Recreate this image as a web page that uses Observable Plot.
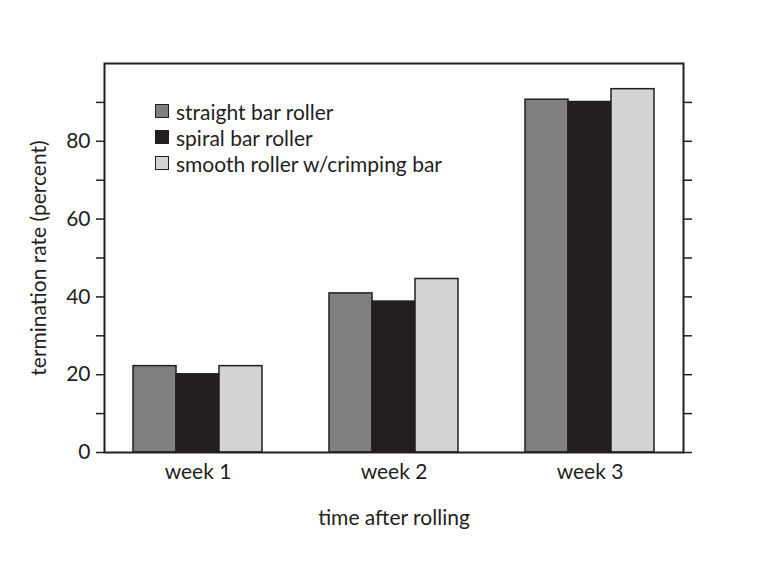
<!DOCTYPE html>
<html>
<head>
<meta charset="utf-8">
<script src="https://cdn.jsdelivr.net/npm/d3@7"></script>
<script src="https://cdn.jsdelivr.net/npm/@observablehq/plot@0.6"></script>
<style>
  html, body { margin: 0; padding: 0; background: #fff; }
  #wrap { position: relative; width: 768px; height: 565px; }
  #legend { position: absolute; left: 155px; top: 98px; font-family: Lato, sans-serif; font-size: 21px; color: #231f20; }
  #legend .row { display: flex; align-items: center; height: 26px; }
  #legend .sw { width: 12px; height: 12px; border: 1.5px solid #231f20; margin-right: 7px; }
</style>
</head>
<body>
<div id="wrap"></div>
<script>
const weeks = ["week 1", "week 2", "week 3"];
const series = ["straight bar roller", "spiral bar roller", "smooth roller w/crimping bar"];
const straightBar = [22.2, 40.9, 90.7];
const spiralBar = [20.1, 38.8, 90.1];
const smoothCrimp = [22.2, 44.6, 93.4];
const colors = ["#808083", "#231f20", "#d2d3d5"];
const yTicks = [0, 10, 20, 30, 40, 50, 60, 70, 80, 90];

const valuesBySeries = [straightBar, spiralBar, smoothCrimp];
const data = [];
weeks.forEach((w, i) => series.forEach((s, j) => data.push({week: w, series: s, value: valuesBySeries[j][i]})));

const chart = Plot.plot({
  width: 768,
  height: 565,
  marginLeft: 104,
  marginRight: 85,
  marginTop: 63,
  marginBottom: 113,
  style: {fontFamily: "Lato, sans-serif", fontSize: "21px", color: "#231f20", background: "#fff"},
  fx: {domain: weeks, paddingInner: 0.046, paddingOuter: 0},
  x: {domain: series, paddingInner: 0, paddingOuter: 0.64, axis: null},
  y: {domain: [0, 100]},
  color: {domain: series, range: colors},
  marks: [
    Plot.barY(data, {fx: "week", x: "series", y: "value", fill: "series", stroke: "#231f20", strokeWidth: 1.5}),
    Plot.axisY({anchor: "left", ticks: yTicks, tickSize: 8, tickPadding: 6, strokeWidth: 1.5,
      tickFormat: d => (d % 20 === 0 ? d : ""), label: "termination rate (percent)", labelAnchor: "center", labelOffset: 73, labelArrow: "none"}),
    Plot.axisY({anchor: "right", ticks: yTicks, tickSize: 8, strokeWidth: 1.5, tickFormat: () => "", label: null}),
    Plot.axisFx({anchor: "bottom", tickSize: 0, tickPadding: 12, label: "time after rolling", labelAnchor: "center", labelOffset: 72, labelArrow: "none"}),
    Plot.frame({facet: "super", stroke: "#231f20", strokeWidth: 2})
  ]
});

const wrap = document.getElementById("wrap");
wrap.appendChild(chart);
const legend = document.createElement("div");
legend.id = "legend";
series.forEach((s, j) => {
  const row = document.createElement("div");
  row.className = "row";
  const sw = document.createElement("div");
  sw.className = "sw";
  sw.style.background = colors[j];
  const t = document.createElement("span");
  t.textContent = s;
  row.appendChild(sw);
  row.appendChild(t);
  legend.appendChild(row);
});
wrap.appendChild(legend);
</script>
</body>
</html>
